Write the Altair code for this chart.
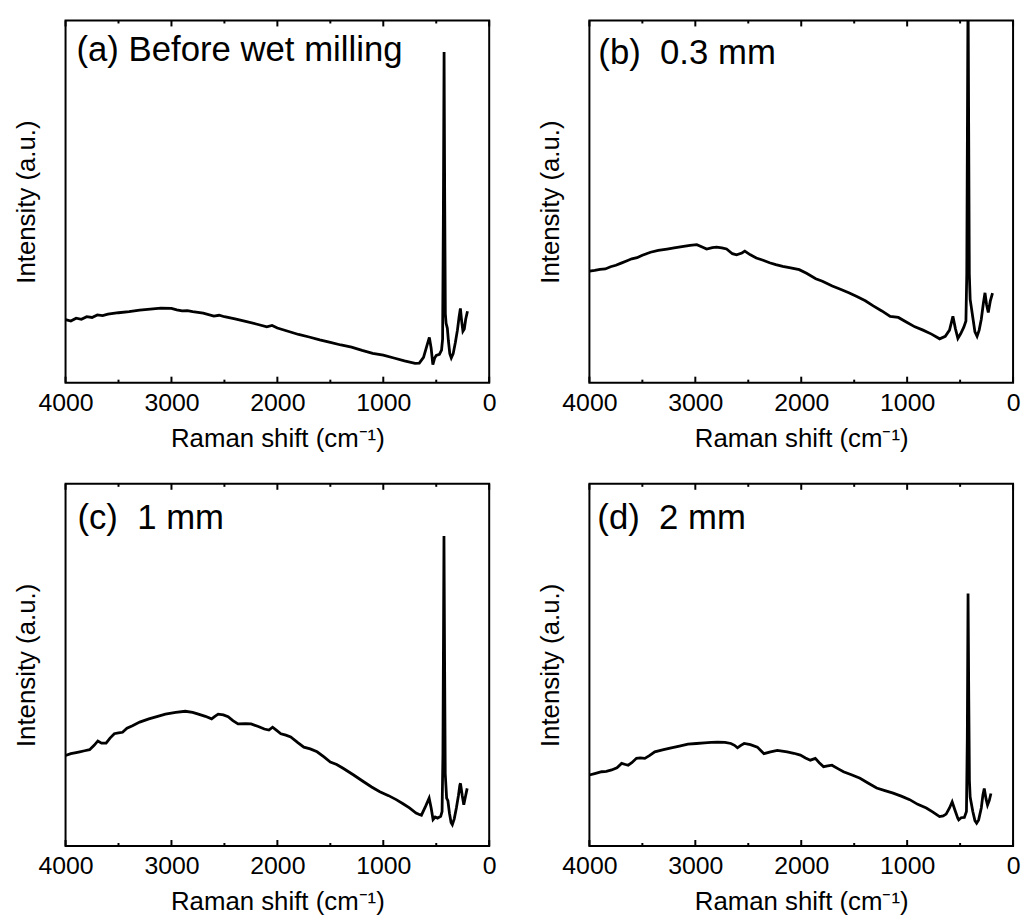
import altair as alt
import pandas as pd

FONT = "Liberation Sans"
MAJOR = [4000, 3000, 2000, 1000, 0]
MINOR = [3500, 2500, 1500, 500]
LABELS = ["(a) Before wet milling", "(b)\u00a0 0.3 mm", "(c)\u00a0 1 mm", "(d)\u00a0 2 mm"]
XTITLE = "Raman shift (cm\u207b\u00b9)"
YTITLE = "Intensity (a.u.)"

A_WN = [4000, 3950, 3900, 3850, 3800, 3750, 3700, 3650, 3600, 3500, 3400, 3300, 3200, 3100, 3000,
        2950, 2900, 2850, 2800, 2700, 2600, 2550, 2500, 2400, 2300, 2200, 2100, 2050, 2000, 1900,
        1800, 1700, 1600, 1500, 1400, 1300, 1200, 1100, 1000, 900, 800, 700, 660, 620, 590, 565,
        548, 532, 515, 500, 470, 450, 440, 433, 426, 420, 414, 407, 395, 385, 372, 358, 340, 320,
        300, 285, 272, 260, 248, 235, 222, 205]
A_I = [17.4, 17.0, 17.8, 17.5, 18.2, 18.0, 18.7, 18.5, 18.9, 19.3, 19.6, 20.0, 20.3, 20.6, 20.5,
       20.1, 19.8, 19.9, 19.6, 19.2, 18.4, 18.6, 18.2, 17.6, 16.9, 16.2, 15.4, 15.8, 15.1, 14.2,
       13.3, 12.6, 11.8, 11.1, 10.4, 9.8, 8.9, 8.1, 7.6, 6.8, 6.0, 5.3, 5.4, 7.0, 10.0, 12.5,
       9.5, 5.0, 6.8, 7.5, 7.8, 9.0, 12.0, 45.0, 91.3, 50.0, 19.0, 16.4, 15.0, 11.5, 8.0, 6.8, 8.0, 11.0,
       14.5, 18.0, 20.5, 17.0, 14.2, 14.8, 17.5, 19.7]

B_WN = [4000, 3950, 3900, 3850, 3800, 3750, 3700, 3650, 3600, 3550, 3500, 3423, 3350, 3267, 3200,
        3111, 3050, 2986, 2930, 2893, 2840, 2799, 2750, 2705, 2650, 2611, 2560, 2533, 2480, 2424,
        2360, 2299, 2240, 2175, 2100, 2019, 1950, 1863, 1800, 1707, 1630, 1551, 1470, 1395, 1320,
        1239, 1160, 1083, 1000, 927, 850, 770, 693, 640, 600, 568, 545, 521, 495, 465, 445, 437,
        431, 425, 419, 413, 405, 396, 380, 360, 340, 320, 300, 280, 265, 250, 234, 215, 194]
B_I = [30.8, 31.0, 31.3, 31.4, 32.0, 32.4, 33.0, 33.6, 34.2, 34.5, 35.2, 36.0, 36.5, 36.9, 37.2,
       37.6, 37.9, 38.1, 37.4, 36.9, 37.3, 37.4, 37.2, 36.9, 35.6, 35.3, 35.8, 36.3, 35.3, 34.4,
       33.8, 33.1, 32.6, 32.1, 31.7, 31.2, 30.2, 28.7, 28.0, 26.7, 25.8, 24.8, 23.7, 22.6, 21.2,
       19.8, 18.3, 18.0, 16.6, 15.4, 14.5, 13.4, 12.1, 12.8, 14.5, 18.3, 15.0, 12.2, 13.5, 15.3, 17.0, 30.0,
       70.0, 110.0, 70.0, 30.0, 23.0, 21.2, 18.0, 14.0, 12.8, 14.5, 17.5, 22.0, 24.8, 21.5, 19.4, 22.5, 24.7]

C_WN = [4000, 3950, 3900, 3866, 3820, 3773, 3730, 3695, 3660, 3617, 3580, 3540, 3500, 3462, 3420,
        3368, 3300, 3213, 3130, 3057, 2960, 2870, 2800, 2746, 2680, 2621, 2590, 2559, 2510, 2465,
        2420, 2372, 2300, 2248, 2180, 2123, 2080, 2045, 2010, 1967, 1920, 1874, 1810, 1750, 1690,
        1625, 1560, 1500, 1440, 1376, 1280, 1189, 1110, 1033, 950, 878, 810, 753, 691, 660, 640,
        600, 567, 548, 530, 510, 488, 458, 445, 437, 432, 427, 421, 415, 402, 390, 375, 360, 348,
        330, 310, 290, 277, 271, 255, 240, 225, 208]
C_I = [25.0, 25.5, 25.8, 26.0, 26.3, 26.6, 27.8, 29.0, 28.4, 28.4, 29.8, 31.0, 31.2, 31.4, 32.5,
       33.2, 34.2, 35.1, 35.8, 36.4, 36.9, 37.2, 36.9, 36.4, 35.8, 35.1, 35.8, 36.4, 36.2, 35.7,
       34.6, 33.7, 33.8, 33.7, 33.0, 32.3, 32.0, 32.8, 32.0, 31.0, 30.6, 30.1, 28.6, 27.3, 26.8,
       26.0, 24.6, 23.2, 22.5, 21.4, 19.6, 17.8, 16.3, 15.0, 13.9, 12.8, 11.6, 10.5, 9.1, 8.7, 8.5,
       11.0, 13.2, 10.5, 7.3, 8.0, 7.7, 8.2, 9.5, 25.0, 55.0, 85.6, 50.0, 20.0, 13.2, 12.5, 9.0, 6.5, 5.9,
       7.5, 10.5, 14.0, 16.8, 17.3, 14.0, 11.4, 13.5, 15.9]

D_WN = [4000, 3950, 3884, 3840, 3790, 3740, 3696, 3660, 3634, 3600, 3556, 3520, 3477, 3430, 3383,
        3300, 3227, 3150, 3070, 2990, 2914, 2850, 2789, 2720, 2664, 2630, 2602, 2570, 2539, 2480,
        2414, 2380, 2352, 2290, 2226, 2180, 2133, 2070, 2008, 1960, 1914, 1867, 1830, 1789, 1750,
        1710, 1650, 1601, 1520, 1445, 1370, 1288, 1210, 1132, 1050, 976, 900, 819, 760, 725, 694,
        660, 632, 600, 575, 550, 522, 513, 490, 460, 440, 432, 425, 418, 412, 405, 397, 380, 360,
        344, 325, 300, 285, 272, 255, 241, 225, 209]
D_I = [19.6, 20.0, 20.5, 20.6, 21.0, 21.6, 22.8, 22.5, 22.3, 23.0, 24.2, 24.3, 24.2, 25.0, 26.0,
       26.6, 27.1, 27.6, 28.1, 28.3, 28.5, 28.6, 28.7, 28.6, 28.3, 27.8, 27.1, 27.8, 28.3, 28.0,
       27.3, 26.3, 25.5, 26.0, 26.4, 26.2, 26.0, 25.6, 25.1, 24.3, 23.7, 24.2, 23.0, 21.9, 22.1,
       22.3, 21.3, 20.5, 19.6, 18.7, 17.4, 16.0, 15.3, 14.6, 13.7, 12.8, 11.5, 10.5, 9.4, 8.7, 8.1,
       8.3, 8.8, 10.5, 12.2, 10.0, 7.7, 7.2, 7.8, 7.9, 9.5, 30.0, 69.7, 40.0, 18.0, 13.5, 12.2, 9.5, 7.0,
       6.3, 7.2, 10.5, 14.0, 15.9, 13.0, 11.3, 12.5, 14.5]

W, H = 427, 365

x_scale = alt.Scale(domain=[4000, 0], nice=False, zero=False)
y_scale = alt.Scale(domain=[0, 100], nice=False, zero=False)

x_axis = alt.Axis(values=MAJOR, format="d", ticks=False, tickSize=0, domain=False, grid=False,
                  labelFont=FONT, labelFontSize=25, labelColor="black", labelPadding=8,
                  labelFlush=False, labelOverlap=False,
                  title=XTITLE, titleFont=FONT, titleFontSize=26, titleFontWeight="normal",
                  titleColor="black", titlePadding=10)
y_axis = alt.Axis(labels=False, ticks=False, tickSize=0, domain=False, grid=False,
                  title=YTITLE, titleFont=FONT, titleFontSize=26, titleFontWeight="normal",
                  titleColor="black", titlePadding=26)


def xenc(field):
    return alt.X(field, type="quantitative", scale=x_scale, axis=x_axis)


def panel(wn, inten, label, lx, ly):
    df = pd.DataFrame({"wn": wn, "v": inten})
    line = alt.Chart(df).mark_line(color="black", strokeWidth=2.8, clip=True).encode(
        x=xenc("wn"),
        y=alt.Y("v", type="quantitative", scale=y_scale, axis=y_axis),
    )
    maj = pd.DataFrame({"t": MAJOR})
    mnr = pd.DataFrame({"t": MINOR})
    rules = []
    for d, ln in ((maj, 6), (mnr, 3)):
        rules.append(alt.Chart(d).mark_rule(color="black", strokeWidth=2).encode(
            x=xenc("t"), y=alt.value(H), y2=alt.value(H - ln)))
        rules.append(alt.Chart(d).mark_rule(color="black", strokeWidth=2).encode(
            x=xenc("t"), y=alt.value(0), y2=alt.value(ln)))
    txt = alt.Chart(pd.DataFrame({"l": [label]})).mark_text(
        align="left", baseline="alphabetic", font=FONT, fontSize=35, color="black"
    ).encode(x=alt.value(lx), y=alt.value(ly), text="l:N")
    return alt.layer(line, *rules, txt).properties(width=W, height=H)


pa = panel(A_WN, A_I, LABELS[0], 11, 41)
pb = panel(B_WN, B_I, LABELS[1], 9, 44)
pc = panel(C_WN, C_I, LABELS[2], 12, 46)
pd_ = panel(D_WN, D_I, LABELS[3], 8, 46)

chart = alt.concat(pa, pb, pc, pd_, columns=2, spacing={"row": 102, "column": 101}, bounds="flush").properties(
    padding={"left": 5, "top": 7, "right": 0, "bottom": 0}
).configure(background="white").configure_view(stroke="black", strokeWidth=2)

chart.save("out.html", embed_options={"renderer": "svg", "actions": False})
